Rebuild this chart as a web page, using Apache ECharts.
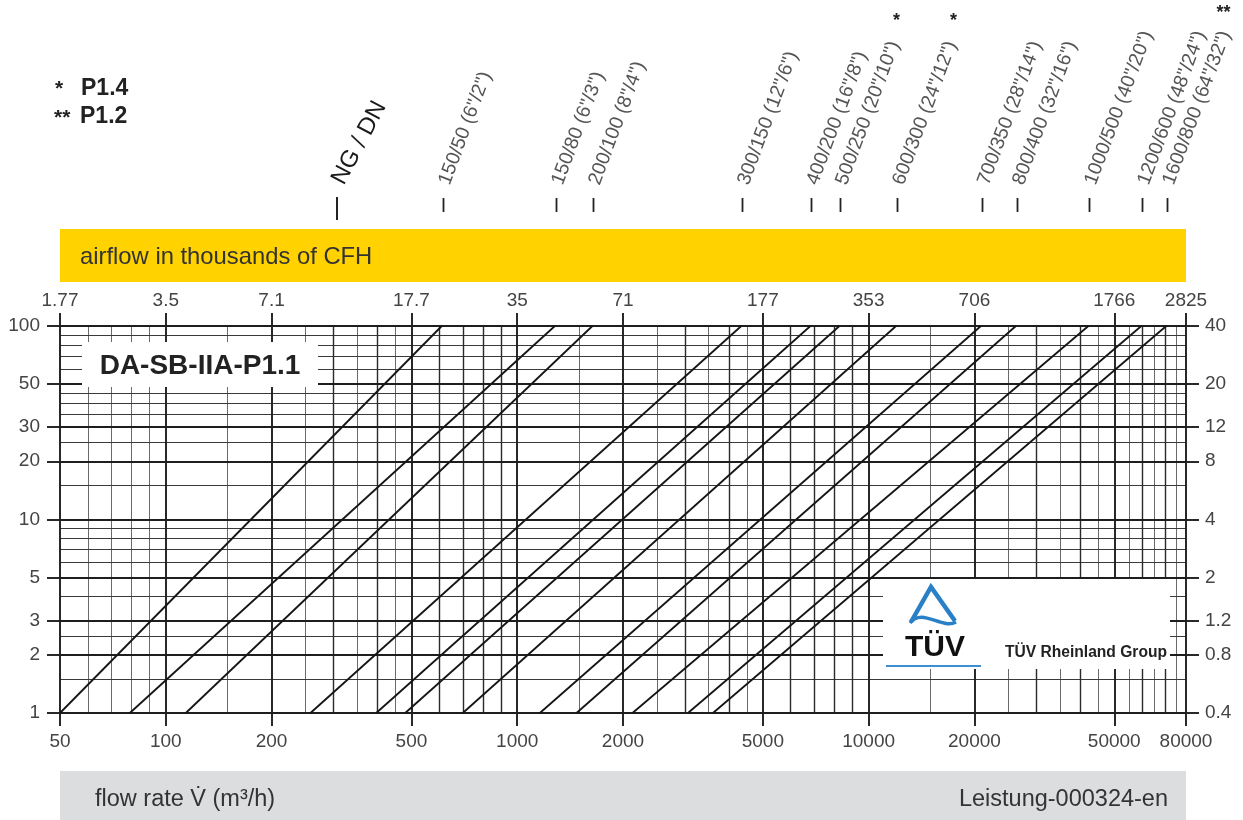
<!DOCTYPE html>
<html><head><meta charset="utf-8">
<script src="https://cdn.jsdelivr.net/npm/echarts@6/dist/echarts.min.js"></script>
<style>html,body{margin:0;padding:0;background:#fff}#c{width:1243px;height:820px}</style>
</head><body><div id="c"></div>
<script>
// ---- data ----
const dnLabels = ['150/50 (6"/2")','150/80 (6"/3")','200/100 (8"/4")','300/150 (12"/6")','400/200 (16"/8")','500/250 (20"/10")','600/300 (24"/12")','700/350 (28"/14")','800/400 (32"/16")','1000/500 (40"/20")','1200/600 (48"/24")','1600/800 (64"/32")'];
const dnStars = ['','','','','','*','*','','','','','**'];
// flow rate (m3/h) where each curve reaches 1 mbar and 100 mbar
const flowAtMin = [50,79,114,258,397,480,700,1160,1475,2128,3061,3606];
const flowAtMax = [610,1280,1637,4342,6830,8260,11970,20870,26240,42200,59700,70300];
const pressureRange = [1,100];
const flowRange = [50,80000];
const flowTicks = [50,100,200,500,1000,2000,5000,10000,20000,50000,80000];
const flowTickLabels = ['50','100','200','500','1000','2000','5000','10000','20000','50000','80000'];
const cfhTickLabels = ['1.77','3.5','7.1','17.7','35','71','177','353','706','1766','2825'];
const pressureTicks = [1,2,3,5,10,20,30,50,100];
const pressureTickLabels = ['1','2','3','5','10','20','30','50','100'];
const inchTickLabels = ['0.4','0.8','1.2','2','4','8','12','20','40'];
const flowGridMain = [300,400,600,700,800,900,3000,4000,6000,7000,8000,9000,30000,40000,60000,70000];
const flowGridMinor = [60,70,80,90,150,250,350,450,1500,2500,3500,4500,15000,25000,35000,45000,55000,65000,75000];
const pressureGridMinor = [1.5,2.5,4,6,7,8,9,15,25,35,40,45,60,70,80,90];

const FONT = "'Liberation Sans', Arial, sans-serif";
const chart = echarts.init(document.getElementById('c'), null, {renderer:'canvas'});

function nearestIdx(v, arr){
  let bi=0, bd=Infinity;
  arr.forEach((t,i)=>{const d=Math.abs(Math.log(v)-Math.log(t)); if(d<bd){bd=d;bi=i;}});
  return bi;
}
const vLines = vals => vals.map(v => ({coords:[[v,pressureRange[0]],[v,pressureRange[1]]]}));
const hLines = vals => vals.map(p => ({coords:[[flowRange[0],p],[flowRange[1],p]]}));
function gridSeries(data, color, width){
  return {type:'lines', coordinateSystem:'cartesian2d', silent:true, z:1,
    lineStyle:{color:color, width:width, opacity:1, curveness:0}, effect:{show:false}, data:data};
}

const series = [
  gridSeries(vLines(flowGridMinor), '#6a6a6a', 1),
  gridSeries(hLines(pressureGridMinor), '#3a3a3a', 1.1),
  gridSeries(vLines(flowGridMain), '#2a2a2a', 1.4),
  gridSeries(vLines(flowTicks), '#1e1e1e', 1.9),
  gridSeries(hLines(pressureTicks), '#1e1e1e', 1.9)
];
dnLabels.forEach((name,i)=>{
  series.push({type:'line', name:name, silent:true, z:5, symbol:'none',
    lineStyle:{color:'#151515', width:1.8},
    data:[[flowAtMin[i],pressureRange[0]],[flowAtMax[i],pressureRange[1]]]});
});

const tickStyle = {color:'#1e1e1e', width:1.9};
const labelBase = {color:'#444', fontSize:19, fontFamily:FONT};
chart.setOption({
  animation:false,
  backgroundColor:'#fff',
  grid:{left:60, right:57, top:326, bottom:107},
  xAxis:[
    {type:'log', logBase:10, min:flowRange[0], max:flowRange[1], position:'bottom',
     axisLine:{show:false}, splitLine:{show:false}, minorTick:{show:false},
     axisTick:{show:true, inside:false, length:13, customValues:flowTicks, lineStyle:tickStyle},
     axisLabel:Object.assign({customValues:flowTicks, margin:19,
       formatter:v=>flowTickLabels[nearestIdx(v,flowTicks)]}, labelBase)},
    {type:'log', logBase:10, min:flowRange[0], max:flowRange[1], position:'top',
     axisLine:{show:false}, splitLine:{show:false}, minorTick:{show:false},
     axisTick:{show:true, inside:false, length:13, customValues:flowTicks, lineStyle:tickStyle},
     axisLabel:Object.assign({customValues:flowTicks, margin:16,
       formatter:v=>cfhTickLabels[nearestIdx(v,flowTicks)]}, labelBase)}
  ],
  yAxis:[
    {type:'log', logBase:10, min:pressureRange[0], max:pressureRange[1], position:'left',
     axisLine:{show:false}, splitLine:{show:false}, minorTick:{show:false},
     axisTick:{show:true, inside:false, length:13, customValues:pressureTicks, lineStyle:tickStyle},
     axisLabel:Object.assign({customValues:pressureTicks, margin:20,
       formatter:v=>pressureTickLabels[nearestIdx(v,pressureTicks)]}, labelBase)},
    {type:'log', logBase:10, min:pressureRange[0], max:pressureRange[1], position:'right',
     axisLine:{show:false}, splitLine:{show:false}, minorTick:{show:false},
     axisTick:{show:true, inside:false, length:13, customValues:pressureTicks, lineStyle:tickStyle},
     axisLabel:Object.assign({customValues:pressureTicks, margin:19,
       formatter:v=>inchTickLabels[nearestIdx(v,pressureTicks)]}, labelBase)}
  ],
  series:series
});

// ---- decorations ----
const g = [];
const Z = 100;
// yellow band
g.push({type:'rect', z:Z, shape:{x:60,y:229,width:1126,height:53}, style:{fill:'#FFD200'}});
g.push({type:'text', z:Z+1, x:80, y:257, style:{text:'airflow in thousands of CFH', font:'23.8px '+FONT, fill:'#333', align:'left', verticalAlign:'middle'}});
// grey band
g.push({type:'rect', z:Z, shape:{x:60,y:771,width:1126,height:49}, style:{fill:'#DCDDDF'}});
g.push({type:'text', z:Z+1, x:95, y:800, style:{text:'flow rate V\u0307 (m\u00b3/h)', font:'23.5px '+FONT, fill:'#333', align:'left', verticalAlign:'middle'}});
g.push({type:'text', z:Z+1, x:1168, y:800, style:{text:'Leistung-000324-en', font:'23.5px '+FONT, fill:'#333', align:'right', verticalAlign:'middle'}});
// footnotes
g.push({type:'text', z:Z, x:55, y:89, style:{text:'*', font:'bold 21px '+FONT, fill:'#222', align:'left', verticalAlign:'middle'}});
g.push({type:'text', z:Z, x:81, y:89, style:{text:'P1.4', font:'bold 23px '+FONT, fill:'#222', align:'left', verticalAlign:'middle'}});
g.push({type:'text', z:Z, x:54, y:118, style:{text:'**', font:'bold 21px '+FONT, fill:'#222', align:'left', verticalAlign:'middle'}});
g.push({type:'text', z:Z, x:80, y:117, style:{text:'P1.2', font:'bold 23px '+FONT, fill:'#222', align:'left', verticalAlign:'middle'}});
// NG / DN
g.push({type:'line', z:Z, shape:{x1:337,y1:197,x2:337,y2:220}, style:{stroke:'#222', lineWidth:2}});
g.push({type:'text', z:Z, x:338, y:183, rotation:62*Math.PI/180, style:{text:'NG / DN', font:'24px '+FONT, fill:'#1a1a1a', align:'left', verticalAlign:'middle'}});
// DN markers from the curve end flows
const ang = 69.5*Math.PI/180;
dnLabels.forEach((name,i)=>{
  const x = Math.round(chart.convertToPixel({xAxisIndex:0}, flowAtMax[i])) + 1.5;
  g.push({type:'line', z:Z, shape:{x1:x,y1:198,x2:x,y2:212}, style:{stroke:'#222', lineWidth:1.8}});
  g.push({type:'text', z:Z, x:x+1, y:184, rotation:ang, style:{text:name, font:'19.5px '+FONT, fill:'#555', align:'left', verticalAlign:'middle'}});
  if(dnStars[i]){
    g.push({type:'text', z:Z, x:x+56, y:dnStars[i]==='**'?13:21, style:{text:dnStars[i], font:'bold 18px '+FONT, fill:'#222', align:'center', verticalAlign:'middle'}});
  }
});
// title box
g.push({type:'rect', z:Z, shape:{x:82,y:342,width:236,height:45}, style:{fill:'#fff'}});
g.push({type:'text', z:Z+1, x:200, y:366, style:{text:'DA-SB-IIA-P1.1', font:'bold 28px '+FONT, fill:'#222', align:'center', verticalAlign:'middle'}});
// TÜV box
g.push({type:'rect', z:Z, shape:{x:883,y:579,width:287,height:90}, style:{fill:'#fff'}});
g.push({type:'polyline', z:Z+1, shape:{points:[[911,622],[931,587],[955,621]]}, style:{stroke:'#2a80c6', lineWidth:4.5, fill:null, lineJoin:'miter'}});
g.push({type:'bezierCurve', z:Z+1, shape:{x1:910,y1:623,x2:956,y2:622,cpx1:922,cpy1:607,cpx2:942,cpy2:630}, style:{stroke:'#2a80c6', lineWidth:3.5, fill:null}});
g.push({type:'text', z:Z+1, x:935, y:648, style:{text:'T\u00dcV', font:'bold 30px '+FONT, fill:'#111', align:'center', verticalAlign:'middle'}});
g.push({type:'line', z:Z+1, shape:{x1:886,y1:666,x2:981,y2:666}, style:{stroke:'#3b8fd2', lineWidth:2}});
g.push({type:'text', z:Z+1, x:1005, y:653, style:{text:'T\u00dcV Rheinland Group', font:'bold 15.6px '+FONT, fill:'#222', align:'left', verticalAlign:'middle'}});

chart.setOption({graphic:{elements:g}});
</script>
</body></html>
